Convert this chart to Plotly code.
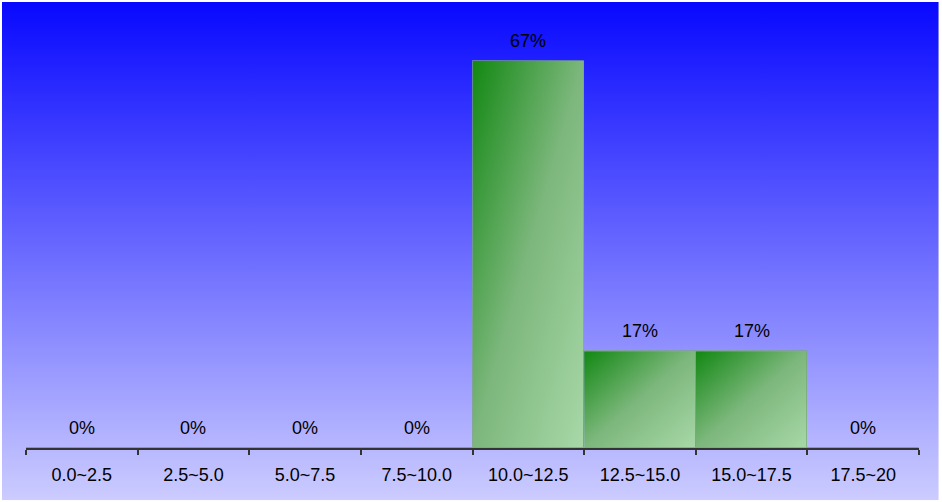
import base64

import plotly.graph_objects as go

categories = ["0.0~2.5", "2.5~5.0", "5.0~7.5", "7.5~10.0", "10.0~12.5", "12.5~15.0", "15.0~17.5", "17.5~20"]
shares = [0, 0, 0, 0, 66.67, 16.67, 16.67, 0]
labels = [f"{round(v)}%" for v in shares]

_FONT = "Arial, 'Liberation Sans', sans-serif"


def _svg_uri(svg: str) -> str:
    return "data:image/svg+xml;base64," + base64.b64encode(svg.encode()).decode()


# vertical blue -> lavender page background
_BG = _svg_uri(
    "<svg xmlns='http://www.w3.org/2000/svg' width='100' height='100' viewBox='0 0 100 100' "
    "preserveAspectRatio='none'><defs><linearGradient id='g' x1='0' y1='0' x2='0' y2='1'>"
    "<stop offset='0' stop-color='#0808ff'/><stop offset='1' stop-color='#ccccff'/>"
    "</linearGradient></defs><rect width='100' height='100' fill='url(#g)'/></svg>"
)
# diagonal green gradient for each bar (top-left dark, bottom-right pale)
_BAR = _svg_uri(
    "<svg xmlns='http://www.w3.org/2000/svg' width='100' height='100' viewBox='0 0 100 100' "
    "preserveAspectRatio='none'><defs><linearGradient id='g' x1='0' y1='0' x2='1' y2='1'>"
    "<stop offset='0' stop-color='#128812'/><stop offset='0.5' stop-color='#7db77d'/>"
    "<stop offset='1' stop-color='#a8d8a8'/></linearGradient></defs>"
    "<rect width='100' height='100' fill='url(#g)'/></svg>"
)

fig = go.Figure()
fig.add_trace(
    go.Bar(
        x=categories, y=shares, width=1,
        marker=dict(color="rgba(0,0,0,0)", line=dict(color="rgba(120,165,120,0.7)", width=1)),
        hovertemplate="%{x}: %{y:.0f}%<extra></extra>",
        showlegend=False,
    )
)

images = [dict(
    source=_BG, xref="paper", yref="paper", x=-0.0269, y=1, sizex=1.049, sizey=1.117,
    xanchor="left", yanchor="top", sizing="stretch", layer="below",
)]
for i, v in enumerate(shares):
    if v > 0:
        images.append(dict(
            source=_BAR, xref="x", yref="y", x=i - 0.5, y=v, sizex=1, sizey=v,
            xanchor="left", yanchor="top", sizing="stretch", layer="below",
        ))

annotations = [
    dict(x=c, y=v, text=t, showarrow=False, yanchor="bottom", yshift=8,
         font=dict(family=_FONT, size=18, color="black"))
    for c, v, t in zip(categories, shares, labels)
]

fig.update_layout(
    width=942, height=502,
    margin=dict(l=26, r=23, t=2, b=54),
    paper_bgcolor="white", plot_bgcolor="rgba(0,0,0,0)",
    bargap=0, images=images, annotations=annotations,
    font=dict(family=_FONT, size=18, color="black"),
)
fig.update_xaxes(
    type="category", range=[-0.5, 7.5], tickson="boundaries", ticks="outside",
    ticklen=5, tickwidth=2, tickcolor="#333", showline=True, linecolor="#333", linewidth=2,
    showgrid=False, ticklabelstandoff=9, tickfont=dict(size=18),
)
fig.update_yaxes(range=[0, 76.8], visible=False, showgrid=False, zeroline=False)

fig.write_html(
    "out.html",
    config={"displayModeBar": False},
    post_script="document.body.style.margin = '0';",
)
